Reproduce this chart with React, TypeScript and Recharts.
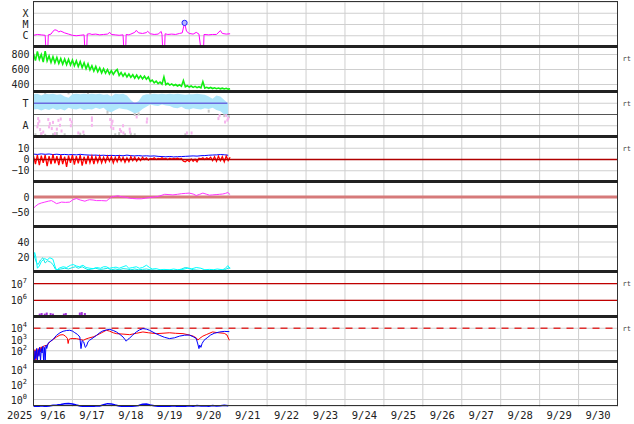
import React from "react";
import { ComposedChart, Line, Area, Scatter, XAxis, YAxis, CartesianGrid, ReferenceLine } from "recharts";

// days since 9/15 00:00 UT
const gridDays = [1, 2, 3, 4, 5, 6, 7, 8, 9, 10, 11, 12, 13, 14];
const dateTicks = [0.5, 1.5, 2.5, 3.5, 4.5, 5.5, 6.5, 7.5, 8.5, 9.5, 10.5, 11.5, 12.5, 13.5, 14.5];
const dateLabels = ["9/16", "9/17", "9/18", "9/19", "9/20", "9/21", "9/22", "9/23", "9/24", "9/25", "9/26", "9/27", "9/28", "9/29", "9/30"];

const T10 = [0, 0.1, 0.2, 0.3, 0.4, 0.5, 0.6, 0.7, 0.8, 0.9, 1, 1.1, 1.2, 1.3, 1.4, 1.5, 1.6, 1.7, 1.8, 1.9, 2, 2.1, 2.2, 2.3, 2.4, 2.5, 2.6, 2.7, 2.8, 2.9, 3, 3.1, 3.2, 3.3, 3.4, 3.5, 3.6, 3.7, 3.8, 3.9, 4, 4.1, 4.2, 4.3, 4.4, 4.5, 4.6, 4.7, 4.8, 4.9, 5];
const T05 = [
  0, 0.05, 0.1, 0.15, 0.2, 0.25, 0.3, 0.35, 0.4, 0.45, 0.5, 0.55, 0.6, 0.65, 0.7, 0.75, 0.8, 0.85, 0.9, 0.95,
  1, 1.05, 1.1, 1.15, 1.2, 1.25, 1.3, 1.35, 1.4, 1.45, 1.5, 1.55, 1.6, 1.65, 1.7, 1.75, 1.8, 1.85, 1.9, 1.95,
  2, 2.05, 2.1, 2.15, 2.2, 2.25, 2.3, 2.35, 2.4, 2.45, 2.5, 2.55, 2.6, 2.65, 2.7, 2.75, 2.8, 2.85, 2.9, 2.95,
  3, 3.05, 3.1, 3.15, 3.2, 3.25, 3.3, 3.35, 3.4, 3.45, 3.5, 3.55, 3.6, 3.65, 3.7, 3.75, 3.8, 3.85, 3.9, 3.95,
  4, 4.05, 4.1, 4.15, 4.2, 4.25, 4.3, 4.35, 4.4, 4.45, 4.5, 4.55, 4.6, 4.65, 4.7, 4.75, 4.8, 4.85, 4.9, 4.95,
  5, 5.05,
];

// X-ray flux (1e-6 W/m2)
const xrayTicks = [100, 10, 1];
const xrayLabels = ["X", "M", "C"];
const xrayT = [0, 0.1, 0.2, 0.3, 0.33, 0.36, 0.38, 0.45, 0.5, 0.55, 0.6, 0.65, 0.7, 0.8, 0.9, 1.0, 1.1, 1.2, 1.3, 1.33, 1.36, 1.38, 1.45, 1.5, 1.6, 1.7, 1.8, 1.9, 1.96, 2.0, 2.1, 2.2, 2.3, 2.33, 2.36, 2.38, 2.45, 2.5, 2.6, 2.64, 2.7, 2.8, 2.9, 2.93, 3.0, 3.1, 3.2, 3.28, 3.3, 3.33, 3.36, 3.38, 3.45, 3.55, 3.65, 3.75, 3.82, 3.88, 3.93, 4.0, 4.1, 4.18, 4.25, 4.33, 4.36, 4.38, 4.5, 4.6, 4.7, 4.8, 4.85, 4.95, 5.05];
const xrayV = [1.1, 1.3, 1.2, 1.1, 0.01, 0.01, 1.2, 1.4, 2.5, 3.4, 3.0, 2.2, 2.6, 1.8, 1.4, 1.1, 1.0, 1.1, 1.2, 0.01, 0.01, 1.4, 1.5, 1.3, 1.4, 1.2, 1.3, 1.4, 2.0, 1.3, 1.2, 1.1, 1.2, 0.01, 0.01, 1.3, 1.2, 1.4, 2.0, 3.0, 1.8, 1.6, 1.9, 2.5, 1.5, 1.3, 1.4, 2.4, 1.3, 0.01, 0.01, 1.5, 1.3, 1.4, 1.3, 1.6, 1.8, 14, 2.5, 1.6, 1.4, 2.0, 1.4, 0.01, 0.01, 1.3, 1.2, 1.3, 1.3, 2.9, 1.6, 1.4, 1.5];
const flareT = [3.88];
const flareV = [14];

// solar wind speed (km/s), on T05
const speedV = [
  810, 720, 840, 735, 800, 700, 845, 715, 780, 695, 770, 690, 760, 680, 745, 670, 740, 665, 735, 660,
  725, 650, 715, 640, 705, 625, 690, 610, 675, 595, 650, 580, 640, 570, 620, 555, 610, 550, 600, 540,
  585, 535, 575, 600, 520, 560, 510, 550, 500, 540, 495, 530, 485, 525, 480, 515, 475, 510, 470, 500,
  440, 458, 422, 445, 412, 432, 405, 500, 398, 415, 392, 408, 386, 400, 380, 396, 376, 453, 370, 384,
  366, 380, 362, 375, 358, 370, 355, 437, 352, 362, 349, 360, 346, 356, 344, 353, 342, 351, 340, 349,
  338, 344,
];

// T / A band panel, on T10
const bandHi = [3.8, 3.85, 3.7, 3.85, 3.8, 3.85, 3.75, 3.8, 3.6, 3.5, 3.8, 3.85, 3.8, 3.85, 3.8, 3.85, 3.8, 3.85, 3.75, 3.8, 3.6, 3.85, 3.8, 3.85, 3.7, 3.3, 3.0, 3.2, 3.7, 3.8, 3.8, 3.85, 3.8, 3.85, 3.8, 3.85, 3.8, 3.85, 3.8, 3.75, 3.8, 3.8, 3.85, 3.8, 3.75, 3.6, 3.4, 3.7, 3.6, 3.3, 3.0];
const bandLo = [2.45, 2.5, 2.35, 2.5, 2.4, 2.55, 2.4, 2.5, 2.35, 2.6, 2.5, 2.45, 2.55, 2.4, 2.5, 2.45, 2.6, 2.5, 2.6, 2.3, 2.2, 2.4, 2.55, 2.5, 2.45, 2.3, 2.1, 2.2, 2.5, 2.7, 2.9, 2.8, 2.75, 2.9, 2.8, 2.75, 2.6, 2.55, 2.7, 2.5, 2.45, 2.55, 2.5, 2.45, 2.55, 2.5, 2.6, 2.4, 2.3, 2.0, 1.8];
const tLineT = [0, 4.98];
const tLineV = [3, 3];
const pinkT = [0.12, 0.12, 0.17, 0.25, 0.38, 0.42, 0.47, 0.55, 0.64, 0.68, 0.72, 0.94, 0.98, 1.15, 1.28, 1.5, 1.5, 1.97, 2.01, 2.05, 2.22, 2.31, 2.48, 2.65, 2.91, 3.94, 4.06, 4.75, 4.92, 5.0, 0.1, 0.15, 0.2, 0.4, 0.5, 0.6, 0.7, 0.96, 1.5, 1.99, 2.03, 2.25, 2.3, 2.47, 2.92, 4.78, 4.95, 4.98];
const pinkV = [1.64, 1.19, 0.66, 0.44, 1.55, 1.19, 0.75, 0.3, 1.48, 1.04, 0.53, 1.55, 1.33, 0.36, 0.44, 1.48, 1.04, 1.55, 1.19, 0.75, 0.66, 0.36, 0.44, 1.78, 1.33, 0.36, 0.36, 1.64, 1.33, 1.64, 0.9, 1.4, 0.3, 0.9, 1.3, 0.7, 1.6, 1.0, 1.7, 0.9, 1.4, 0.5, 1.0, 0.7, 1.6, 1.9, 1.9, 1.5];
const greyT = [0.05, 0.2, 0.3, 0.5, 0.6, 0.8, 1.2, 1.3, 2.1, 2.2, 2.35, 2.5, 2.6, 3.9, 0.3, 0.9, 1.4, 1.9, 2.6, 2.7, 3.0, 4.5, 4.9, 5.02];
const greyV = [0.2, 0.25, 0.15, 0.2, 0.3, 0.2, 0.25, 0.15, 0.2, 0.3, 0.2, 0.25, 0.2, 0.2, 3.95, 3.92, 3.95, 2.2, 2.0, 2.05, 3.92, 2.3, 1.9, 1.8];

// magnetic field (nT)
const bzV = [
  3, -4, 4, -5, 3.5, -3, 4, -6, 3, -4, 4.5, -3.5, 3, -5, 4, -4, 2.5, -6.5, 3.5, -3,
  4, -4.5, 3, -3.5, 4, -5.5, 2.5, -4, 3.5, -3, 3, -4, 2.5, -2.5, 3, -3, 2, -2.5, 3, -1.5,
  2.5, -3, 2, -2, 3, -1.5, 2, -2.5, 1.5, -2, 2.5, -1, 2, -1.5, 1.5, -1, 2, 0, 1.5, -0.5,
  1, 0.5, 1.5, 0, 1, 0.5, 1.5, 0.5, 1, 0, 1.2, 0.3, 1, 0.5, 1.2, 0.4, 0.8, -1.5, -2, -0.5,
  -1.8, 0.5, -1.5, 0.2, -2, 1, 0.5, 1.5, 0, 1.5, 0.5, 2, -1, 2.5, -1.5, 3, -1, 2.5, -2, 3,
  -1, 2,
];
const btV = [4.8, 4.5, 5.0, 4.6, 4.9, 4.4, 4.7, 4.3, 4.5, 4.2, 4.4, 4.1, 4.6, 4.2, 4.0, 3.8, 3.9, 3.6, 3.8, 3.5, 3.7, 3.4, 3.6, 3.3, 3.9, 3.4, 3.2, 3.5, 3.1, 3.3, 3.0, 3.2, 2.8, 2.6, 2.4, 2.7, 2.3, 2.5, 2.6, 2.8, 3.0, 3.2, 3.0, 3.4, 3.5, 3.8, 4.0, 4.1, 4.4, 4.2, 3.8];

// Dst (nT)
const dstT = [0, 0.06, 0.12, 0.2, 0.29, 0.38, 0.46, 0.52, 0.59, 0.65, 0.72, 0.82, 0.93, 1.0, 1.1, 1.2, 1.32, 1.38, 1.44, 1.53, 1.62, 1.75, 1.87, 1.93, 2.0, 2.08, 2.17, 2.25, 2.38, 2.47, 2.55, 2.65, 2.77, 2.88, 2.98, 3.1, 3.2, 3.3, 3.37, 3.48, 3.58, 3.7, 3.8, 3.9, 4.0, 4.1, 4.18, 4.27, 4.35, 4.45, 4.52, 4.6, 4.69, 4.78, 4.86, 4.93, 4.99, 5.05];
const dstV = [-37, -30, -24, -20, -17, -14, -12, -16, -22, -20, -17, -18, -17, -10, -5, -10, -14, -11, -9, -10, -12, -12, -13, -8, 0, 2, 4, 1, -1, -4, -5, -6, -6, -4, -2, 0, 2, 6, 9, 8, 7, 9, 11, 12, 13, 10, 5, 9, 13, 9, 6, 7, 8, 9, 10, 12, 15, 8];

// two cyan traces
const cyAT = [0, 0.03, 0.06, 0.1, 0.15, 0.2, 0.29, 0.35, 0.42, 0.5, 0.55, 0.59, 0.65, 0.76, 0.85, 0.95, 1.02, 1.1, 1.18, 1.27, 1.35, 1.45, 1.53, 1.62, 1.72, 1.8, 1.87, 1.95, 2.05, 2.12, 2.2, 2.3, 2.38, 2.45, 2.55, 2.64, 2.72, 2.8, 2.9, 2.98, 3.05, 3.15, 3.25, 3.35, 3.5, 3.6, 3.7, 3.84, 3.95, 4.05, 4.18, 4.3, 4.4, 4.52, 4.62, 4.72, 4.86, 4.93, 4.99, 5.05];
const cyAV = [22, 26, 20, 5, 8, 14, 18, 16, 19, 17, 8, 2, 5, 7, 6, 9, 10, 8, 7, 9, 6, 5, 4.5, 6, 5, 7, 7, 5, 6, 6.5, 5, 7, 8.5, 5, 6, 7, 5, 6, 9, 6, 4, 4.5, 3, 3.5, 3, 4, 3, 3.5, 5, 4, 6, 5, 3, 3.5, 3, 4, 3, 5, 8.5, 4];
const cyBT = [0, 0.04, 0.08, 0.12, 0.18, 0.24, 0.3, 0.36, 0.44, 0.5, 0.56, 0.62, 0.7, 0.8, 0.9, 1.0, 1.08, 1.15, 1.25, 1.32, 1.4, 1.5, 1.6, 1.7, 1.8, 1.9, 2.0, 2.1, 2.2, 2.3, 2.4, 2.5, 2.6, 2.7, 2.8, 2.9, 3.0, 3.1, 3.2, 3.3, 3.4, 3.5, 3.6, 3.7, 3.8, 3.9, 4.0, 4.1, 4.2, 4.3, 4.4, 4.5, 4.6, 4.7, 4.8, 4.9, 5.0, 5.05];
const cyBV = [25, 18, 12, 10, 16, 19, 12, 15, 13, 10, 4, 3, 4, 5, 4, 6, 7, 5, 7, 5, 3, 4, 5, 3.5, 4, 5, 3, 4, 3, 4.5, 4, 3, 4, 3, 3.5, 4, 3, 2.5, 2, 2.5, 2, 2.5, 2, 2.5, 4, 6, 5, 3, 2.5, 2, 2.5, 2, 2.5, 2, 2.5, 3, 5, 6];

// proton panel
const protonTicks = [1e7, 1e6];
const protonT = [0.16, 0.21, 0.29, 0.34, 0.44, 0.5, 0.78, 0.83, 1.19, 1.24, 1.32];
const protonV = [1.3e5, 1.4e5, 1.3e5, 1.5e5, 1.4e5, 1.3e5, 1.3e5, 1.4e5, 1.5e5, 1.6e5, 1.4e5];

// electron panel
const elecTicks = [1e4, 1e3, 1e2];
const elecBlueT = [0, 0.02, 0.04, 0.06, 0.08, 0.1, 0.12, 0.14, 0.16, 0.18, 0.2, 0.22, 0.24, 0.26, 0.28, 0.3, 0.32, 0.34, 0.38, 0.42, 0.5, 0.59, 0.68, 0.76, 0.85, 0.93, 1.0, 1.06, 1.13, 1.19, 1.22, 1.25, 1.29, 1.33, 1.36, 1.4, 1.44, 1.53, 1.62, 1.7, 1.78, 1.87, 1.96, 2.05, 2.13, 2.22, 2.3, 2.35, 2.38, 2.42, 2.47, 2.55, 2.64, 2.72, 2.81, 2.9, 2.98, 3.1, 3.24, 3.36, 3.49, 3.62, 3.75, 3.88, 4.0, 4.1, 4.18, 4.22, 4.25, 4.27, 4.3, 4.33, 4.38, 4.46, 4.55, 4.64, 4.78, 4.9, 5.03];
const elecBlueV = [40, 11, 100, 20, 158, 11, 126, 32, 200, 11, 158, 63, 251, 11, 200, 11, 316, 158, 500, 630, 1000, 2340, 3980, 5370, 6310, 6610, 5620, 4070, 2820, 1660, 155, 790, 600, 200, 250, 630, 850, 1410, 2340, 3980, 5750, 7080, 7940, 6310, 4680, 2820, 1660, 1000, 710, 1000, 1350, 2510, 4680, 7080, 9330, 8320, 6610, 3980, 2340, 1580, 1200, 1410, 2000, 2400, 2510, 1780, 1200, 400, 155, 316, 200, 440, 850, 1410, 2510, 3550, 4680, 5250, 5010];
const elecRedT = [0, 0.02, 0.04, 0.06, 0.08, 0.1, 0.12, 0.14, 0.16, 0.18, 0.2, 0.22, 0.25, 0.3, 0.35, 0.42, 0.5, 0.59, 0.68, 0.76, 0.82, 0.87, 0.89, 0.91, 0.95, 1.1, 1.2, 1.28, 1.35, 1.42, 1.55, 1.62, 1.75, 1.87, 1.95, 2.05, 2.13, 2.3, 2.47, 2.64, 2.81, 2.95, 3.15, 3.3, 3.49, 3.65, 3.84, 4.0, 4.1, 4.18, 4.22, 4.27, 4.35, 4.45, 4.6, 4.75, 4.9, 4.97, 5.03];
const elecRedV = [63, 16, 126, 11, 100, 25, 158, 40, 200, 79, 224, 100, 251, 282, 316, 600, 1000, 1660, 2510, 2690, 2000, 1260, 440, 1000, 1200, 1200, 1000, 850, 1120, 1350, 1780, 2340, 3980, 6610, 5620, 3980, 3310, 3020, 2690, 3550, 4680, 3980, 3310, 3550, 3980, 3550, 3310, 2510, 2000, 1410, 890, 1260, 2000, 2820, 4680, 3980, 3550, 2510, 850];

// bottom panel, on T10
const lowTicks = [1e4, 1e2, 1];
const lowV = [0.13, 0.11, 0.15, 0.12, 0.14, 0.17, 0.19, 0.22, 0.27, 0.3, 0.25, 0.18, 0.14, 0.12, 0.13, 0.11, 0.14, 0.14, 0.2, 0.28, 0.26, 0.18, 0.14, 0.12, 0.13, 0.12, 0.14, 0.16, 0.24, 0.25, 0.19, 0.15, 0.13, 0.12, 0.14, 0.13, 0.15, 0.12, 0.14, 0.13, 0.15, 0.13, 0.16, 0.14, 0.15, 0.13, 0.16, 0.14, 0.15, 0.17, 0.15];

const pairs = (ts: number[], vs: number[]) => ts.map((t, i) => ({ t, v: vs[i] }));

const xrayData = pairs(xrayT, xrayV);
const flareData = pairs(flareT, flareV);
const speedData = pairs(T05, speedV);
const bandData = T10.map((t, i) => ({ t, r: [bandLo[i], bandHi[i]] }));
const tLineData = pairs(tLineT, tLineV);
const pinkData = pairs(pinkT, pinkV);
const greyData = pairs(greyT, greyV);
const bzData = pairs(T05, bzV);
const btData = pairs(T10, btV);
const dstData = pairs(dstT, dstV);
const cyAData = pairs(cyAT, cyAV);
const cyBData = pairs(cyBT, cyBV);
const protonData = pairs(protonT, protonV);
const elecBlueData = pairs(elecBlueT, elecBlueV);
const elecRedData = pairs(elecRedT, elecRedV);
const lowData = pairs(T10, lowV);

const W = 634;
const PANEL_H = 45;
const TOP0 = 1.7;
const MONO = "DejaVu Sans Mono";
const INK = "#222";
const GRID = "#cfcfcf";
const margin = { top: 0, right: 16.5, bottom: 0, left: 0 };

const labelTick = (ticks: number[], labels: string[]) => (p: any) => (
  <text x={p.x - 1} y={p.y} dy={3.6} textAnchor="end" fontFamily={MONO} fontSize={10} fill={INK}>
    {labels[ticks.indexOf(p.payload.value)]}
  </text>
);

const numTick = (p: any) => (
  <text x={p.x} y={p.y} dy={3.6} textAnchor="end" fontFamily={MONO} fontSize={10} fill={INK}>
    {String(p.payload.value).replace("-", "\u2212")}
  </text>
);

const logTick = (p: any) => (
  <text x={p.x - 2.5} y={p.y + 4} textAnchor="end" fontFamily={MONO} fontSize={10} fill={INK}>
    <tspan>10</tspan>
    <tspan dy={-5} fontSize={7}>{Math.round(Math.log10(p.payload.value))}</tspan>
  </text>
);

const dateTick = (p: any) => (
  <text x={p.x} y={p.y} dy={12} textAnchor="middle" fontFamily={MONO} fontSize={10.5} fill={INK}>
    {dateLabels[dateTicks.indexOf(p.payload.value)]}
  </text>
);

const dotShape = (color: string) => (p: any) => <rect x={p.cx - 1} y={p.cy - 1.5} width={2} height={3} fill={color} />;

const rtLabel = { value: "rt", position: "right" as const, fontSize: 7, fill: "#444", fontFamily: MONO };

const xAxisEl = <XAxis dataKey="t" type="number" domain={[0, 15]} ticks={gridDays} hide allowDataOverflow />;
const gridEl = <CartesianGrid stroke={GRID} />;
const yCommon = { width: 33.5, axisLine: false, tickLine: false, tickSize: 0, tickMargin: 4, allowDataOverflow: true, interval: 0 as const };

function Slot({ top, children }: { top: number; children: React.ReactNode }) {
  return <div style={{ position: "absolute", left: 0, top }}>{children}</div>;
}
const at = (i: number) => TOP0 + i * PANEL_H;

export default function App() {
  const seps = [1, 2, 3, 4, 5, 6, 7, 8];
  return (
    <div style={{ position: "fixed", left: 0, top: 0, width: W, height: 424, background: "#fff", overflow: "hidden" }}>
      <Slot top={at(0)}>
        <ComposedChart width={W} height={PANEL_H} margin={margin}>
          {gridEl}
          {xAxisEl}
          <YAxis {...yCommon} scale="log" domain={[0.1, 1000]} ticks={xrayTicks} tick={labelTick(xrayTicks, xrayLabels)} />
          <Line data={xrayData} dataKey="v" stroke="#ff00ff" strokeWidth={1} dot={false} isAnimationActive={false} />
          <Scatter data={flareData} dataKey="v" isAnimationActive={false}
            shape={(p: any) => <circle cx={p.cx} cy={p.cy} r={2.6} fill="#b8b8ff" stroke="#2020ff" strokeWidth={1} />} />
        </ComposedChart>
      </Slot>

      <Slot top={at(1)}>
        <ComposedChart width={W} height={PANEL_H} margin={margin}>
          {gridEl}
          {xAxisEl}
          <YAxis {...yCommon} domain={[300, 900]} ticks={[800, 600, 400]} tick={numTick} />
          <ReferenceLine y={750} stroke="none" label={rtLabel} />
          <Line data={speedData} dataKey="v" stroke="#11ee11" strokeWidth={1.6} dot={false} isAnimationActive={false} />
        </ComposedChart>
      </Slot>

      <Slot top={at(2)}>
        <ComposedChart width={W} height={PANEL_H} margin={margin}>
          {gridEl}
          {xAxisEl}
          <YAxis {...yCommon} domain={[0, 4]} ticks={[3, 1]} tick={labelTick([3, 1], ["T", "A"])} />
          <Area data={bandData} dataKey="r" stroke="none" fill="#aee6fb" fillOpacity={1} isAnimationActive={false} />
          <Scatter data={greyData} dataKey="v" shape={dotShape("#c8c8c8")} isAnimationActive={false} />
          <Scatter data={pinkData} dataKey="v" shape={dotShape("#f6b4ee")} isAnimationActive={false} />
          <Line data={tLineData} dataKey="v" stroke="#6b6be0" strokeWidth={1.5} dot={false} isAnimationActive={false} />
          <ReferenceLine y={2} stroke="#555" strokeWidth={1} />
          <ReferenceLine y={3} stroke="none" label={rtLabel} />
        </ComposedChart>
      </Slot>

      <Slot top={at(3)}>
        <ComposedChart width={W} height={PANEL_H} margin={margin}>
          {gridEl}
          {xAxisEl}
          <YAxis {...yCommon} domain={[-20, 20]} ticks={[10, 0, -10]} tick={numTick} />
          <ReferenceLine y={10} stroke="none" label={rtLabel} />
          <Line data={btData} dataKey="v" stroke="#0000ff" strokeWidth={1} dot={false} isAnimationActive={false} />
          <Line data={bzData} dataKey="v" stroke="#ff0000" strokeWidth={1.3} dot={false} isAnimationActive={false} />
          <ReferenceLine y={0} stroke="#b00000" strokeWidth={1.3} />
        </ComposedChart>
      </Slot>

      <Slot top={at(4)}>
        <ComposedChart width={W} height={PANEL_H} margin={margin}>
          {gridEl}
          {xAxisEl}
          <YAxis {...yCommon} domain={[-100, 50]} ticks={[0, -50]} tick={numTick} />
          <ReferenceLine y={0} stroke="#d67a7a" strokeWidth={3} />
          <Line data={dstData} dataKey="v" stroke="#ff33ff" strokeWidth={1} dot={false} isAnimationActive={false} />
        </ComposedChart>
      </Slot>

      <Slot top={at(5)}>
        <ComposedChart width={W} height={PANEL_H} margin={margin}>
          {gridEl}
          {xAxisEl}
          <YAxis {...yCommon} domain={[0, 60]} ticks={[40, 20]} tick={numTick} />
          <Line data={cyBData} dataKey="v" stroke="#11e6e6" strokeWidth={1} dot={false} isAnimationActive={false} />
          <Line data={cyAData} dataKey="v" stroke="#00ffff" strokeWidth={1} dot={false} isAnimationActive={false} />
        </ComposedChart>
      </Slot>

      <Slot top={at(6)}>
        <ComposedChart width={W} height={PANEL_H} margin={margin}>
          {gridEl}
          {xAxisEl}
          <YAxis {...yCommon} scale="log" domain={[1e5, 5e7]} ticks={protonTicks} tick={logTick} />
          <ReferenceLine y={1e7} stroke="#c00000" strokeWidth={1.3} label={rtLabel} />
          <ReferenceLine y={1e6} stroke="#c00000" strokeWidth={1.3} />
          <Scatter data={protonData} dataKey="v" shape={dotShape("#a030d8")} isAnimationActive={false} />
        </ComposedChart>
      </Slot>

      <Slot top={at(7)}>
        <ComposedChart width={W} height={PANEL_H} margin={margin}>
          {gridEl}
          {xAxisEl}
          <YAxis {...yCommon} scale="log" domain={[10, 1e5]} ticks={elecTicks} tick={logTick} />
          <ReferenceLine y={1e4} stroke="#e03030" strokeWidth={1.5} strokeDasharray="7 6" label={rtLabel} />
          <Line data={elecRedData} dataKey="v" stroke="#ff0000" strokeWidth={1} dot={false} isAnimationActive={false} />
          <Line data={elecBlueData} dataKey="v" stroke="#0000ff" strokeWidth={1} dot={false} isAnimationActive={false} />
        </ComposedChart>
      </Slot>

      <Slot top={at(8)}>
        <ComposedChart width={W} height={PANEL_H} margin={margin}>
          {gridEl}
          {xAxisEl}
          <YAxis {...yCommon} scale="log" domain={[0.1, 1e5]} ticks={lowTicks} tick={logTick} />
          <Line data={lowData} dataKey="v" stroke="#0000ff" strokeWidth={1.5} dot={false} isAnimationActive={false} />
        </ComposedChart>
      </Slot>

      {/* date axis, its own small chart */}
      <Slot top={at(9) - 2}>
        <ComposedChart width={W} height={22} margin={{ top: 0, right: 16.5, bottom: 0, left: 33.5 }}>
          <XAxis dataKey="t" type="number" domain={[0, 15]} ticks={dateTicks} allowDataOverflow interval={0}
            axisLine={false} tickLine={false} tickSize={0} tickMargin={0} height={20} tick={dateTick} />
          <YAxis hide domain={[0, 1]} allowDataOverflow />
          <Line data={lowData} dataKey="v" stroke="none" dot={false} isAnimationActive={false} />
        </ComposedChart>
      </Slot>

      <div style={{ position: "absolute", left: 7, top: 409, fontFamily: MONO, fontSize: 10.5, color: INK }}>2025</div>

      <div style={{ position: "absolute", left: 33, top: 1.2, width: 585, height: 404.5, border: "1px solid #333", boxSizing: "border-box", pointerEvents: "none" }} />
      {seps.map((k) => (
        <div key={k} style={{ position: "absolute", left: 33, top: at(k) - 1.5, width: 585, height: 3, background: INK }} />
      ))}
    </div>
  );
}
